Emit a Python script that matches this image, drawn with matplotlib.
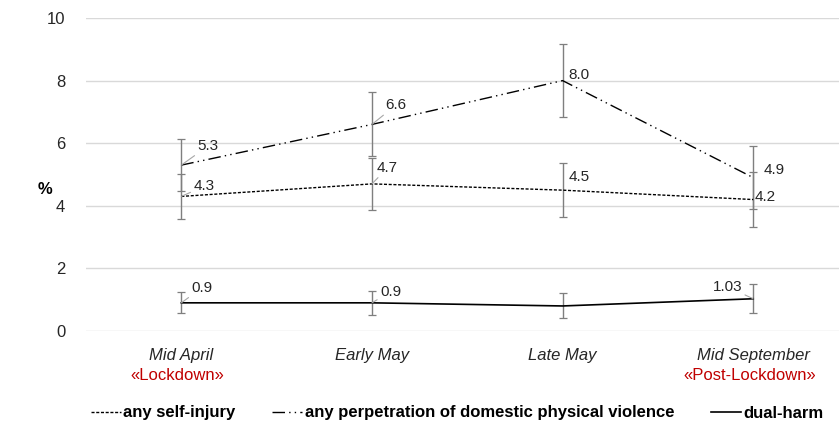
import numpy as np
import matplotlib.pyplot as plt

# time points
periods = ["Mid April", "Early May", "Late May", "Mid September"]
phases = ["«Lockdown»", "", "", "«Post-Lockdown»"]

# prevalence (%) and error-bar half widths
self_injury = [4.3, 4.7, 4.5, 4.2]
self_injury_err = [0.72, 0.83, 0.87, 0.88]
violence = [5.3, 6.6, 8.0, 4.9]
violence_err = [0.82, 1.02, 1.17, 1.0]
dual_harm = [0.9, 0.9, 0.8, 1.03]
dual_harm_err = [0.34, 0.39, 0.40, 0.46]

# value labels shown on the chart (late May dual-harm has none)
self_injury_lbl = ["4.3", "4.7", "4.5", "4.2"]
violence_lbl = ["5.3", "6.6", "8.0", "4.9"]
dual_harm_lbl = ["0.9", "0.9", None, "1.03"]

plt.rcParams['font.family'] = ['Liberation Sans', 'DejaVu Sans']

fig = plt.figure(figsize=(8.39, 4.26), dpi=100)
ax = fig.add_axes([86 / 839, 1 - 331 / 426, 1 - 86 / 839, 313 / 426])

x = np.arange(len(periods))
err_kw = dict(fmt='none', ecolor='#7f7f7f', elinewidth=1.0, capsize=3, capthick=0.9, zorder=2)

ax.errorbar(x, violence, yerr=violence_err, **err_kw)
ax.errorbar(x, self_injury, yerr=self_injury_err, **err_kw)
ax.errorbar(x, dual_harm, yerr=dual_harm_err, **err_kw)

l1, = ax.plot(x, self_injury, color='black', lw=1.0, linestyle=(0, (2.2, 1.2)), zorder=3)
l2, = ax.plot(x, violence, color='black', lw=1.0, linestyle=(0, (9, 3, 1, 3, 1, 3)), zorder=3)
l3, = ax.plot(x, dual_harm, color='black', lw=1.2, zorder=3)

# label offsets in pixels and whether a leader line is drawn
lab_off = {
    'si': [(12, 10, True), (5, 16, True), (6, 13, False), (1, 3, False)],
    'v': [(16, 19, True), (13, 19, True), (6, 6, False), (10, 8, False)],
    'd': [(10, 15, True), (8, 11, True), None, (-11, 12, True)],
}


def put_labels(vals, labels, offs):
    for i, (v, t) in enumerate(zip(vals, labels)):
        if t is None:
            continue
        dx, dy, lead = offs[i]
        ha = 'left' if dx >= 0 else 'right'
        ax.annotate(t, (i, v), xytext=(dx, dy), textcoords='offset pixels',
                    ha=ha, va='center', fontsize=11, color='#262626', zorder=4,
                    arrowprops=dict(arrowstyle='-', color='#a6a6a6', lw=0.8,
                                    shrinkA=0, shrinkB=0) if lead else None)


put_labels(self_injury, self_injury_lbl, lab_off['si'])
put_labels(violence, violence_lbl, lab_off['v'])
put_labels(dual_harm, dual_harm_lbl, lab_off['d'])

ax.set_xlim(-0.5, 3.45)
ax.set_ylim(0, 10)
ax.set_yticks([0, 2, 4, 6, 8, 10])
ax.yaxis.grid(True, color='#d9d9d9', lw=1.0)
ax.set_axisbelow(True)
for s in ax.spines.values():
    s.set_visible(False)
ax.tick_params(axis='y', length=0, pad=15, labelsize=12, labelcolor='#262626')
ax.tick_params(axis='x', length=0, pad=12)
ax.set_xticks(x)
ax.set_xticklabels(periods, fontsize=12, style='italic', color='#262626')

for i, p in enumerate(phases):
    if p:
        ax.annotate(p, (i, 0), xytext=(-4, -44), textcoords='offset pixels',
                    ha='center', va='center', fontsize=12, color='#c00000')

fig.text(45 / 839, 1 - 189 / 426, '%', fontsize=12, fontweight='bold', ha='center', va='center')

fig.legend([l1, l2, l3],
           ['any self-injury', 'any perpetration of domestic physical violence', 'dual-harm'],
           loc='center', bbox_to_anchor=(457 / 839, 1 - 413 / 426), ncol=3, frameon=False,
           prop=dict(weight='bold', size=12), handlelength=1.8, handletextpad=0.15,
           columnspacing=2.2)

fig.savefig('out.png', dpi=100)
